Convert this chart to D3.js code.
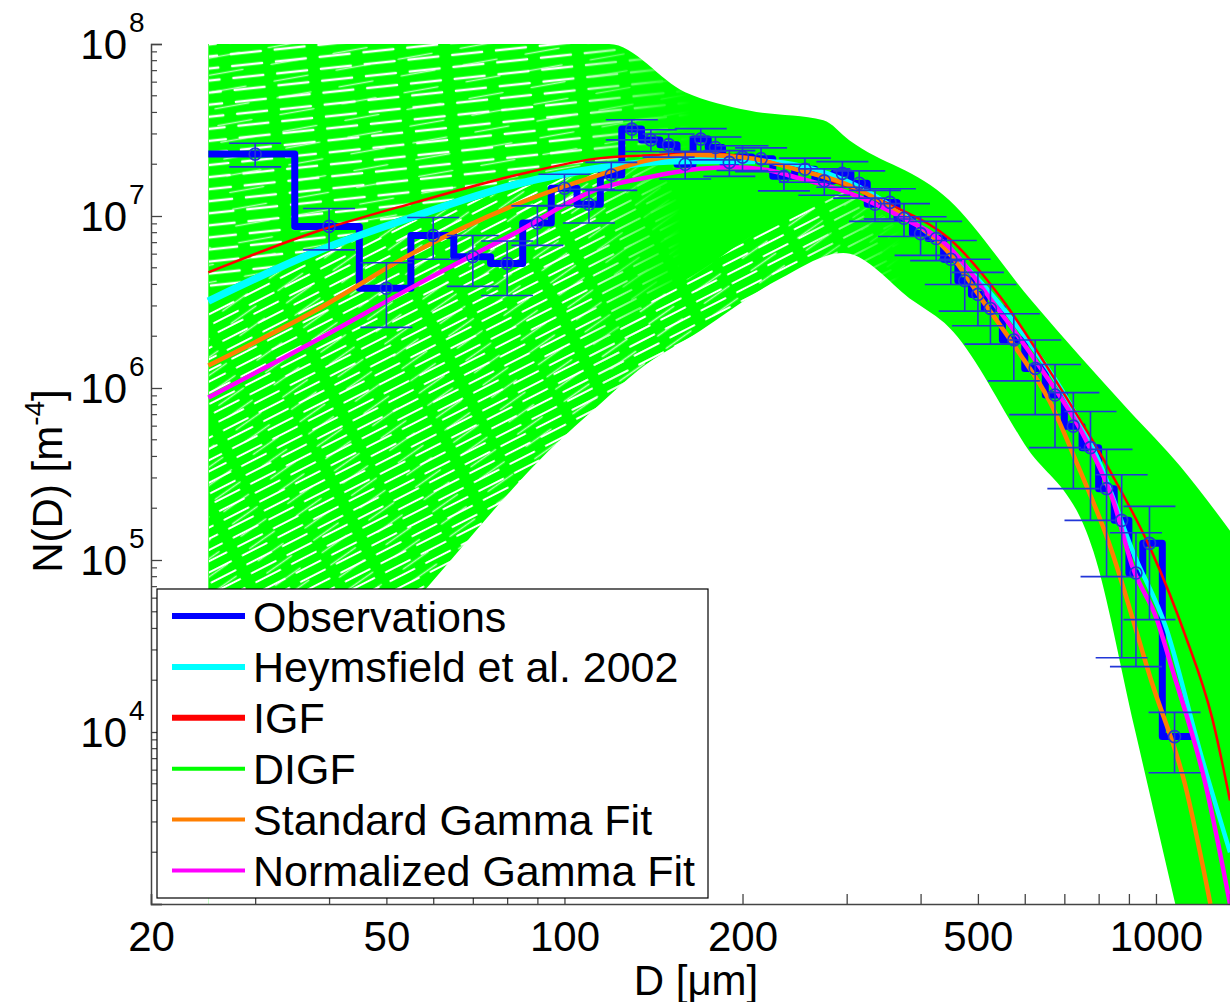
<!DOCTYPE html>
<html>
<head>
<meta charset="utf-8">
<script src="https://cdnjs.cloudflare.com/ajax/libs/d3/7.8.5/d3.min.js"></script>
<style>
  body { margin: 0; background: #fff; }
  text { font-family: "Liberation Sans", Arial, sans-serif; fill: #000; }
</style>
</head>
<body>
<div id="container"></div>
<script>
// observations: bin centres [um], N(D) [m^-4], 1-sigma error
const obsD = [30, 40, 50, 60, 70, 80, 90, 100, 110, 120, 130, 140, 150, 160, 170, 180, 190, 200,
  215, 235, 255, 275, 295, 315, 335, 355, 375, 400, 425, 450, 475, 500, 525, 575, 625, 675, 725,
  775, 825, 875, 925, 975, 1075];
const obsN = [2.29e7, 8.7e6, 3.8e6, 7.7e6, 5.8e6, 5.3e6, 9.1e6, 1.45e7, 1.17e7, 1.73e7, 3.2e7, 2.77e7,
  2.6e7, 2.0e7, 2.8e7, 2.5e7, 2.05e7, 2.2e7, 2.15e7, 1.7e7, 1.87e7, 1.6e7, 1.77e7, 1.55e7, 1.17e7,
  1.2e7, 9.7e6, 7.9e6, 7.4e6, 5.6e6, 4.2e6, 3.5e6, 2.9e6, 1.9e6, 1.3e6, 9.1e5, 6.0e5, 4.5e5, 2.6e5,
  1.7e5, 8.4e4, 1.25e5, 9.4e3];
const obsErr = [3.6e6, 2.35e6, 1.55e6, 2.1e6, 1.9e6, 1.85e6, 2.35e6, 3.0e6, 2.6e6, 3.2e6, 4.3e6, 4.0e6,
  4.0e6, 3.6e6, 4.2e6, 3.8e6, 3.5e6, 3.6e6, 3.4e6, 3.0e6, 3.0e6, 2.8e6, 3.0e6, 2.8e6, 2.4e6,
  2.4e6, 2.1e6, 2.0e6, 1.9e6, 1.6e6, 1.4e6, 1.2e6, 1.1e6, 8.0e5, 6.0e5, 4.6e5, 3.4e5, 2.8e5, 1.8e5,
  1.43e5, 6.0e4, 8.0e4, 3.6e3];
const obsFirstEdge = 25;
const obsLastEdge = 1150;

// Heymsfield et al. 2002
const heymD = [25, 38, 56, 83, 115, 160, 210, 300, 400, 500, 600, 700, 800, 914, 1041, 1186, 1334];
const heymN = [3.2e6, 6.2e6, 1.0e7, 1.53e7, 1.9e7, 2.1e7, 2.1e7, 1.6e7, 8.6e6, 4.3e6, 2.0e6, 9.2e5,
  3.8e5, 1.12e5, 4.0e4, 7.8e3, 2.0e3];

// IGF
const igfD = [25, 38, 56, 83, 115, 141, 169, 205, 249, 303, 368, 447, 545, 682, 828, 986, 1119, 1245, 1334];
const igfN = [4.7e6, 8.1e6, 1.2e7, 1.73e7, 2.17e7, 2.26e7, 2.32e7, 2.2e7, 1.85e7, 1.47e7, 1.1e7, 7.4e6,
  3.4e6, 1.06e6, 3.5e5, 1.1e5, 3.7e4, 1.2e4, 4e3];

// standard gamma fit
const sgfD = [25, 38, 56, 83, 115, 141, 169, 205, 249, 303, 368, 447, 510, 583, 660, 739, 830, 986, 1119, 1236];
const sgfN = [1.35e6, 2.83e6, 6.2e6, 1.17e7, 1.74e7, 2.14e7, 2.26e7, 2.17e7, 1.85e7, 1.51e7, 1.04e7,
  6.1e6, 3.2e6, 1.66e6, 8.45e5, 3.5e5, 1.3e5, 1.9e4, 5.0e3, 1.0e3];

// normalized gamma fit
const ngfD = [25, 38, 56, 83, 115, 141, 169, 192, 220, 249, 303, 368, 447, 532, 636, 761, 847, 914,
  1004, 1064, 1212, 1334];
const ngfN = [8.8e5, 1.89e6, 3.95e6, 8.05e6, 1.45e7, 1.7e7, 1.88e7, 1.92e7, 1.85e7, 1.66e7, 1.36e7,
  1.0e7, 6.6e6, 3.1e6, 1.33e6, 5.0e5, 2.2e5, 9.0e4, 4.5e4, 2.35e4, 5.0e3, 1.0e3];

// DIGF family: upper and lower edges of the bundle
const digfUpD = [25, 119, 160, 205, 274, 303, 447, 617, 900, 1100, 1334];
const digfUpN = [1e8, 1e8, 5.25e7, 4.1e7, 3.6e7, 2.76e7, 1.24e7, 3.2e6, 7.4e5, 3.5e5, 1.48e5];
const digfLoD = [25, 40, 60, 94, 115, 133, 170, 231, 296, 389, 447, 600, 784, 920, 1078];
const digfLoN = [3e3, 1.5e4, 7.6e4, 4.3e5, 8.1e5, 1.26e6, 2.16e6, 4.3e6, 6.1e6, 3.2e6, 2.25e6, 4.7e5,
  1.12e5, 1.05e4, 1e3];

const xTicks = [20, 50, 100, 200, 500, 1000];
const xMinorTicks = [30, 40, 60, 70, 80, 90, 300, 400, 600, 700, 800, 900];
const yExps = [8, 7, 6, 5, 4];

const legendLabels = ["Observations", "Heymsfield et al. 2002", "IGF", "DIGF", "Standard Gamma Fit", "Normalized Gamma Fit"];
const legendColors = ["#0000ff", "#00ffff", "#ff0000", "#00ff00", "#ff7f00", "#ff00ff"];

const width = 1230;
const height = 1002;

const x = d3.scaleLog().domain([20, 1334]).range([151, 1230]);
const y = d3.scaleLog().domain([1e3, 1e8]).range([904, 44]);

const svg = d3.select("#container")
  .append("svg")
  .attr("width", width)
  .attr("height", height);

const defs = svg.append("defs");
defs.append("clipPath").attr("id", "plotclip")
  .append("rect")
  .attr("x", 151).attr("y", 44)
  .attr("width", 1079).attr("height", 860);

const pts = (ds, ns) => ds.map((d, i) => ({D: d, N: ns[i]}));
const upperArea = d3.area().x(d => x(d.D)).y0(910).y1(d => y(d.N)).curve(d3.curveMonotoneX);

// texture: thin white gaps between the many DIGF lines
function slitPattern(id, w, h, angle, sw, len, op) {
  const p = defs.append("pattern").attr("id", id)
    .attr("patternUnits", "userSpaceOnUse")
    .attr("width", w).attr("height", h)
    .attr("patternTransform", `rotate(${angle})`);
  p.append("path").attr("d", `M4,${h / 2} L${4 + len},${h / 2}`)
    .attr("stroke", "#fff").attr("stroke-width", sw)
    .attr("stroke-linecap", "round").attr("opacity", op);
}
slitPattern("slitsA1", 44, 12, -6, 2.5, 30, 1);
slitPattern("slitsA2", 63, 17, -10, 1.6, 34, 0.7);
slitPattern("slitsB1", 40, 10, -27, 1.9, 27, 1);
slitPattern("slitsB2", 57, 15, -35, 1.5, 30, 0.7);

function fadeMask(id, stops) {
  const g = defs.append("linearGradient").attr("id", id + "g")
    .attr("gradientUnits", "userSpaceOnUse")
    .attr("x1", 0).attr("x2", width).attr("y1", 0).attr("y2", 0);
  stops.forEach(s => g.append("stop").attr("offset", s[0] / width).attr("stop-color", "#fff").attr("stop-opacity", s[1]));
  defs.append("mask").attr("id", id)
    .attr("maskUnits", "userSpaceOnUse").attr("x", 0).attr("y", 0).attr("width", width).attr("height", height)
    .append("rect").attr("width", width).attr("height", height).attr("fill", `url(#${id}g)`);
}
fadeMask("fadeUp", [[560, 1], [690, 0]]);
fadeMask("fadeMid", [[580, 1], [680, 0]]);
fadeMask("fadeLow", [[560, 0], [640, 1], [800, 1], [900, 0]]);

const heymPts = pts(heymD, heymN);
defs.append("clipPath").attr("id", "aboveFits")
  .append("path").attr("d", d3.area().x(d => x(d.D)).y0(30).y1(d => y(d.N) - 4).curve(d3.curveMonotoneX)(heymPts));
defs.append("clipPath").attr("id", "belowFits")
  .append("path").attr("d", d3.area().x(d => x(d.D)).y0(920).y1(d => y(d.N) + 4).curve(d3.curveMonotoneX)(heymPts));
defs.append("clipPath").attr("id", "nearLow")
  .append("path").attr("transform", "translate(0,-60)")
  .attr("d", upperArea(pts(digfLoD, digfLoN)));
defs.append("clipPath").attr("id", "bandclip")
  .append("path").attr("d", upperArea(pts(digfUpD, digfUpN)));

const plot = svg.append("g").attr("clip-path", "url(#plotclip)");

// green DIGF bundle
plot.append("path")
  .datum(pts(digfUpD, digfUpN))
  .attr("d", upperArea)
  .attr("fill", "#00ff00");

const tex = plot.append("g").attr("clip-path", "url(#bandclip)");
const t1 = tex.append("g").attr("clip-path", "url(#aboveFits)").append("g").attr("mask", "url(#fadeUp)");
t1.append("rect").attr("x", 209).attr("y", 40).attr("width", 600).attr("height", 400).attr("fill", "url(#slitsA1)");
t1.append("rect").attr("x", 209).attr("y", 40).attr("width", 600).attr("height", 400).attr("fill", "url(#slitsA2)");
const t2 = tex.append("g").attr("clip-path", "url(#belowFits)").append("g").attr("mask", "url(#fadeMid)");
t2.append("rect").attr("x", 209).attr("y", 150).attr("width", 600).attr("height", 500).attr("fill", "url(#slitsB1)");
t2.append("rect").attr("x", 209).attr("y", 150).attr("width", 600).attr("height", 500).attr("fill", "url(#slitsB2)");
const t3 = tex.append("g").attr("clip-path", "url(#nearLow)").append("g").attr("mask", "url(#fadeLow)");
t3.append("rect").attr("x", 540).attr("y", 150).attr("width", 380).attr("height", 450).attr("fill", "url(#slitsB1)");
t3.append("rect").attr("x", 540).attr("y", 150).attr("width", 380).attr("height", 450).attr("fill", "url(#slitsB2)");

plot.append("path")
  .datum(pts(digfLoD, digfLoN))
  .attr("d", upperArea)
  .attr("fill", "#fff");

// observations as stairs
const edges = [obsFirstEdge];
for (let i = 1; i < obsD.length; i++) edges.push((obsD[i - 1] + obsD[i]) / 2);
const stairs = edges.map((e, i) => ({D: e, N: obsN[i]}));
stairs.push({D: obsLastEdge, N: obsN[obsN.length - 1]});

plot.append("path")
  .datum(stairs)
  .attr("d", d3.line().x(d => x(d.D)).y(d => y(d.N)).curve(d3.curveStepAfter))
  .attr("fill", "none")
  .attr("stroke", "#0000ff")
  .attr("stroke-width", 7)
  .attr("stroke-linejoin", "round");

// fitted curves
const fitLine = d3.line().x(d => x(d.D)).y(d => y(d.N)).curve(d3.curveMonotoneX);
const fits = [
  {data: heymPts, color: "#00ffff", w: 4.5},
  {data: heymPts.filter(d => d.D <= 210), color: "#00ffff", w: 7.5},  // looks heavier on the left
  {data: pts(igfD, igfN), color: "#ff0000", w: 2.5},
  {data: pts(sgfD, sgfN), color: "#ff7f00", w: 4.5},
  {data: pts(ngfD, ngfN), color: "#ff00ff", w: 4.5}
];
fits.forEach(f => {
  plot.append("path")
    .datum(f.data)
    .attr("d", fitLine)
    .attr("fill", "none")
    .attr("stroke", f.color)
    .attr("stroke-width", f.w);
});

// error bars and markers
const obs = obsD.map((d, i) => ({D: d, N: obsN[i], e: obsErr[i]}));
const eb = plot.append("g").attr("stroke", "#2236d8").attr("stroke-width", 1.6).attr("fill", "none");
obs.forEach(o => {
  const cx = x(o.D);
  const yHi = y(o.N + o.e);
  const yLo = y(Math.max(o.N - o.e, 1e2));
  eb.append("line").attr("x1", cx).attr("x2", cx).attr("y1", yHi).attr("y2", yLo);
  eb.append("line").attr("x1", cx - 26).attr("x2", cx + 26).attr("y1", yHi).attr("y2", yHi);
  eb.append("line").attr("x1", cx - 26).attr("x2", cx + 26).attr("y1", yLo).attr("y2", yLo);
  eb.append("circle").attr("cx", cx).attr("cy", y(o.N)).attr("r", 6);
});

// axes
const axisColor = "#444";
const xAxis = svg.append("g")
  .attr("transform", "translate(0,904)")
  .call(d3.axisBottom(x)
    .tickValues(xTicks.concat(xMinorTicks))
    .tickSize(-10)
    .tickPadding(17)
    .tickFormat(d => xTicks.includes(d) ? d : ""));
xAxis.select(".domain").attr("stroke", axisColor).attr("stroke-width", 1.5);
xAxis.selectAll(".tick line").attr("stroke", axisColor).attr("stroke-width", 1.3);
xAxis.selectAll(".tick text").attr("font-size", 42).attr("font-family", "Liberation Sans, Arial, sans-serif");

const yMinor = [];
for (let e = 3; e < 8; e++) for (let m = 2; m <= 9; m++) yMinor.push(m * Math.pow(10, e));
const yAxis = svg.append("g")
  .attr("transform", "translate(151,0)")
  .call(d3.axisLeft(y)
    .tickValues(yExps.map(e => Math.pow(10, e)).concat([1e3]))
    .tickSize(-11)
    .tickFormat(""));
yAxis.select(".domain").attr("stroke", axisColor).attr("stroke-width", 1.5);
yAxis.selectAll(".tick line").attr("stroke", axisColor).attr("stroke-width", 1.3);
svg.append("g")
  .selectAll("line")
  .data(yMinor)
  .join("line")
  .attr("x1", 151).attr("x2", 157)
  .attr("y1", d => y(d)).attr("y2", d => y(d))
  .attr("stroke", axisColor).attr("stroke-width", 1.2);

yExps.forEach(e => {
  svg.append("text")
    .attr("x", 127).attr("y", y(Math.pow(10, e)) + 15)
    .attr("text-anchor", "end").attr("font-size", 42)
    .text("10");
  svg.append("text")
    .attr("x", 129).attr("y", y(Math.pow(10, e)) - 12)
    .attr("font-size", 28)
    .text(e);
});

// axis titles
svg.append("text")
  .attr("x", 696).attr("y", 995)
  .attr("text-anchor", "middle").attr("font-size", 42)
  .text("D [\u03bcm]");

const yl = svg.append("text")
  .attr("transform", "translate(62,481) rotate(-90)")
  .attr("text-anchor", "middle").attr("font-size", 42);
yl.append("tspan").text("N(D) [m");
yl.append("tspan").attr("font-size", 28).attr("dy", -18).text("-4");
yl.append("tspan").attr("dy", 18).text("]");

// legend
const lg = svg.append("g").attr("transform", "translate(157,589)");
lg.append("rect")
  .attr("width", 551).attr("height", 309)
  .attr("fill", "#fff").attr("stroke", "#000").attr("stroke-width", 1.2);
legendLabels.forEach((lab, i) => {
  const yy = 27 + i * 50.9;
  lg.append("line")
    .attr("x1", 15).attr("x2", 88).attr("y1", yy).attr("y2", yy)
    .attr("stroke", legendColors[i]).attr("stroke-width", i < 3 ? 6 : 4);
  lg.append("text")
    .attr("x", 96).attr("y", yy + 15.5)
    .attr("font-size", 43)
    .text(lab);
});
</script>
</body>
</html>
